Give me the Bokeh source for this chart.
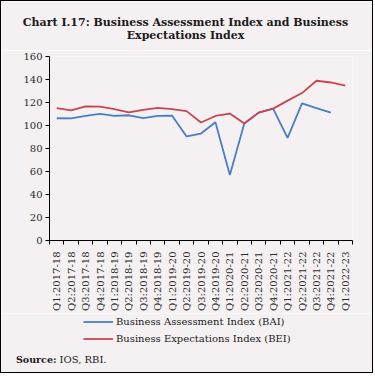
from math import pi
import numpy as np
from bokeh.plotting import figure
from bokeh.layouts import column
from bokeh.models import FixedTicker, Label, Legend, LegendItem, Range1d
from bokeh.embed import file_html
from bokeh.resources import INLINE

quarters = ["Q1:2017-18", "Q2:2017-18", "Q3:2017-18", "Q4:2017-18",
            "Q1:2018-19", "Q2:2018-19", "Q3:2018-19", "Q4:2018-19",
            "Q1:2019-20", "Q2:2019-20", "Q3:2019-20", "Q4:2019-20",
            "Q1:2020-21", "Q2:2020-21", "Q3:2020-21", "Q4:2020-21",
            "Q1:2021-22", "Q2:2021-22", "Q3:2021-22", "Q4:2021-22",
            "Q1:2022-23"]
bai = [106.3, 106.2, 108.3, 110.2, 108.4, 108.9, 106.5, 108.4, 108.5, 90.5,
       93.0, 102.8, 57.0, 101.7, 111.2, 114.7, 89.3, 119.3, 115.2, 111.2]
bei = [115.2, 113.2, 116.7, 116.4, 114.2, 111.5, 113.6, 115.3, 114.2, 112.5,
       102.6, 108.3, 110.4, 101.7, 111.2, 114.7, 121.6, 128.2, 138.9, 137.4,
       134.6]
y_ticks = [0, 20, 40, 60, 80, 100, 120, 140, 160]
series_names = ["Business Assessment Index (BAI)", "Business Expectations Index (BEI)"]
series_colors = ["#4A7EC4", "#C6464E"]
title_lines = ["Chart I.17: Business Assessment Index and Business", "Expectations Index"]
source_label = "Source:"
source_text = "IOS, RBI."

BG = "#f5f1f2"
FONT = "DejaVu Serif"
TXT = "#1a1a1a"
W = 371


def blank(height):
    f = figure(width=W, height=height, output_backend="svg", toolbar_location=None,
               x_range=Range1d(0, W), y_range=Range1d(height, 0),
               x_axis_location=None, y_axis_location=None, frame_align=False,
               min_border=0, min_border_left=0, min_border_right=0,
               min_border_top=0, min_border_bottom=0)
    f.background_fill_color = BG
    f.border_fill_color = BG
    f.outline_line_color = None
    f.xgrid.visible = False
    f.ygrid.visible = False
    return f


# --- title strip ---
t = blank(49)
for txt, yy in zip(title_lines, [21, 33.5]):
    t.add_layout(Label(x=184, y=yy, text=txt, text_align="center",
                       text_baseline="alphabetic", text_font=FONT,
                       text_font_style="bold", text_font_size="11px",
                       text_color=TXT))

# --- main chart ---
m = figure(width=W, height=263, output_backend="svg", toolbar_location=None,
           x_range=Range1d(-0.5, len(quarters) - 0.5), y_range=Range1d(0, 160),
           min_border_left=48, min_border_right=20, min_border_top=6,
           min_border_bottom=72, frame_align=False)
m.background_fill_color = BG
m.border_fill_color = BG
m.outline_line_color = None
m.xgrid.visible = False
m.ygrid.visible = False

xi = list(range(len(quarters)))
m.line(xi[:len(bai)], bai, line_color=series_colors[0], line_width=1.8)
m.line(xi[:len(bei)], bei, line_color=series_colors[1], line_width=1.8)

xa = m.xaxis[0]
xa.ticker = FixedTicker(ticks=xi, minor_ticks=[i - 0.5 for i in range(len(quarters) + 1)])
xa.major_label_overrides = {i: q for i, q in enumerate(quarters)}
xa.major_tick_in = 0
xa.major_tick_out = 0
xa.minor_tick_in = 0
xa.minor_tick_out = 4
xa.major_label_orientation = pi / 2
xa.major_label_standoff = 7
xa.major_label_text_font = FONT
xa.major_label_text_font_size = "10px"
xa.major_label_text_color = "#2a2a2a"
xa.axis_line_color = "#000"
xa.minor_tick_line_color = "#000"

ya = m.yaxis[0]
ya.ticker = FixedTicker(ticks=y_ticks)
ya.major_tick_in = 0
ya.major_tick_out = 4
ya.minor_tick_line_color = None
ya.major_label_standoff = 3
ya.major_label_text_font = FONT
ya.major_label_text_font_size = "10px"
ya.major_label_text_color = "#2a2a2a"
ya.axis_line_color = "#000"
ya.major_tick_line_color = "#000"

# --- legend and source strip ---
lg = blank(59)
items = []
for name, col in zip(series_names, series_colors):
    r = lg.line(np.array([np.nan]), np.array([np.nan]), line_color=col, line_width=1.8)
    items.append(LegendItem(label=name, renderers=[r]))
legend = Legend(items=items, location=(82, 25), orientation="vertical",
                background_fill_alpha=0, border_line_color=None,
                glyph_width=30, glyph_height=17, label_height=17, spacing=0,
                padding=0, margin=0, label_standoff=3,
                label_text_font=FONT, label_text_font_size="10px",
                label_text_color=TXT)
lg.add_layout(legend)
lg.add_layout(Label(x=14.5, y=46, text=source_label, text_align="left",
                    text_baseline="alphabetic", text_font=FONT,
                    text_font_style="bold", text_font_size="9.5px", text_color=TXT))
lg.add_layout(Label(x=58, y=46, text=source_text, text_align="left",
                    text_baseline="alphabetic", text_font=FONT,
                    text_font_size="10px", text_color=TXT))

p = column(t, m, lg, spacing=0, styles={"border": "1px solid #000"})

open("out.html", "w").write(file_html(p, INLINE))
